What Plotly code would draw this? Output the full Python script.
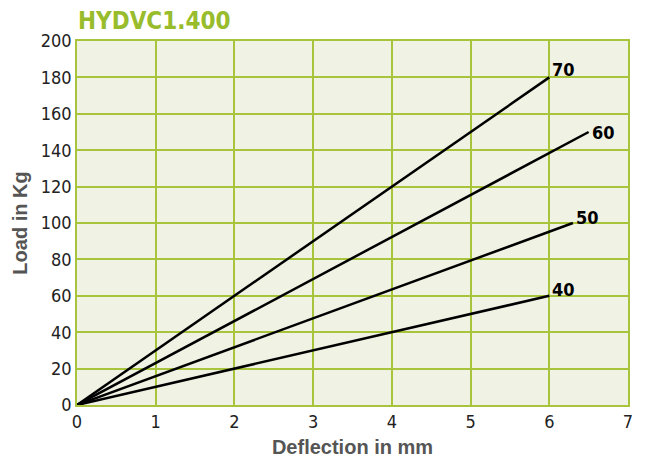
import plotly.graph_objects as go

series_names = ["70", "60", "50", "40"]
deflection_end = [6.0, 6.5, 6.3, 6.0]
load_end = [180, 150, 100, 60]
label_yshift = [8, 0, 6, 6]

x_ticks = [0, 1, 2, 3, 4, 5, 6, 7]
y_ticks = [0, 20, 40, 60, 80, 100, 120, 140, 160, 180, 200]

cond = "DejaVu Sans Condensed, Liberation Sans Narrow, sans-serif"

fig = go.Figure()
for name, dx, ly, ys in zip(series_names, deflection_end, load_end, label_yshift):
    fig.add_trace(go.Scatter(x=[0, dx], y=[0, ly], mode="lines",
                             line=dict(color="black", width=2.5), showlegend=False,
                             hoverinfo="skip"))
    fig.add_annotation(x=dx, y=ly, text="<b>" + name + "</b>", showarrow=False, xanchor="left",
                       yanchor="middle", xshift=1, yshift=ys,
                       font=dict(family=cond, size=18, color="black"))

grid_color = "#a8c43c"
tick_font = dict(family=cond, size=18, color="#222")
fig.update_layout(
    width=645, height=465,
    margin=dict(l=69, r=25, t=33, b=68),
    paper_bgcolor="white",
    plot_bgcolor="#f0f2e3",
    title=dict(text="<b>HYDVC1.400</b>", x=70/645, xanchor="left", y=1 - 13/465, yanchor="middle",
               automargin=False,
               font=dict(family=cond, size=24, color="#98bc2c")),
    xaxis=dict(range=[0, 7], tickvals=x_ticks, showgrid=True, gridcolor=grid_color, gridwidth=1.5,
               zeroline=False, showline=True, linecolor=grid_color, linewidth=1.5, mirror=True,
               tickfont=tick_font, ticks="", automargin=False,
               title=dict(text="<b>Deflection in mm</b>", standoff=9,
                          font=dict(family="Liberation Sans, Arial, sans-serif", size=20, color="#555"))),
    yaxis=dict(range=[0, 200], tickvals=y_ticks, showgrid=True, gridcolor=grid_color, gridwidth=1.5,
               zeroline=False, showline=True, linecolor=grid_color, linewidth=1.5, mirror=True,
               tickfont=tick_font, ticks="", automargin=False,
               title=dict(text="<b>Load in Kg</b>", standoff=8,
                          font=dict(family="Liberation Sans, Arial, sans-serif", size=20, color="#555"))),
)
fig.write_html("out.html")
